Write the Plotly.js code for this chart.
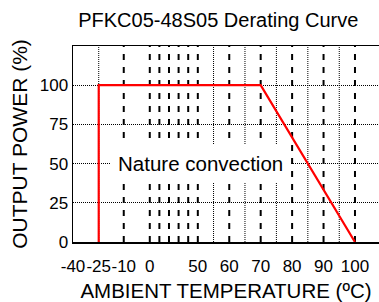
<!DOCTYPE html>
<html>
<head>
<meta charset="utf-8">
<script src="https://cdn.plot.ly/plotly-3.0.1.min.js"></script>
<style>html,body{margin:0;padding:0;background:#fff;}#chart{width:379px;height:302px;}</style>
</head>
<body>
<div id="chart"></div>
<script>
// Derating curve (temperature °C -> output power %)
const curveTemp = [-25, -25, 70, 100];
const curvePower = [0, 100, 100, 0];

// Broken (piecewise) temperature axis of the original figure
const axisKnotTemp = [-40, -25, -10, 0, 50, 100];
const axisKnotUnit = [0, 25.7, 50.7, 76.7, 124.7, 281.7];

// Tick labels
const xTickTemps = [-40, -25, -10, 0, 50, 60, 70, 80, 90, 100];
const xTickLabels = ['-40', '-25', '-10', '0', '50', '60', '70', '80', '90', '100'];
const yTickVals = [0, 25, 50, 75, 100];

// Vertical grid lines
const dashedGridTemps = [-10, 0, 10, 20, 30, 40, 50, 60, 70, 80, 90, 100];
const dottedGridTemps = [-25, 55, 65, 75, 85, 95];

function mapTemp(t) {
  for (let i = 0; i < axisKnotTemp.length - 1; i++) {
    const a = axisKnotTemp[i], b = axisKnotTemp[i + 1];
    if (t <= b || i === axisKnotTemp.length - 2) {
      const f = (t - a) / (b - a);
      return axisKnotUnit[i] + f * (axisKnotUnit[i + 1] - axisKnotUnit[i]);
    }
  }
}

const FONT = 'Liberation Sans, Arial, Helvetica, sans-serif';

const shapes = [];
dashedGridTemps.forEach(t => shapes.push({
  type: 'line', xref: 'x', yref: 'paper', x0: mapTemp(t), x1: mapTemp(t), y0: 0, y1: 1,
  layer: 'below', line: {color: '#000', width: 2, dash: '6px,7px'}
}));
dottedGridTemps.forEach(t => shapes.push({
  type: 'line', xref: 'x', yref: 'paper', x0: mapTemp(t), x1: mapTemp(t), y0: 0, y1: 1,
  layer: 'below', line: {color: '#000', width: 1, dash: '1px,1px'}
}));

const trace = {
  x: curveTemp.map(mapTemp),
  y: curvePower,
  type: 'scatter',
  mode: 'lines',
  line: {color: '#ff0000', width: 2.2},
  hoverinfo: 'skip',
  showlegend: false
};

const layout = {
  width: 379, height: 302,
  margin: {l: 73, r: 0, t: 46, b: 60},
  paper_bgcolor: '#fff', plot_bgcolor: '#fff',
  font: {family: FONT, color: '#000', size: 17},
  title: {text: 'PFKC05-48S05 Derating Curve', font: {family: FONT, size: 20, color: '#000'},
          xref: 'container', x: 0.576, xanchor: 'center', yref: 'container', y: 0.935, yanchor: 'middle'},
  xaxis: {
    range: [0, 305.7], fixedrange: true,
    tickmode: 'array', tickvals: xTickTemps.map(mapTemp), ticktext: xTickLabels,
    tickangle: 0,
    showgrid: false, zeroline: false,
    showline: true, linecolor: '#000', linewidth: 1.5, mirror: true,
    ticks: 'outside', ticklen: 8, tickcolor: 'rgba(0,0,0,0)',
    tickfont: {family: FONT, size: 17, color: '#000'},
    title: {text: 'AMBIENT TEMPERATURE (ºC)', font: {family: FONT, size: 20.5, color: '#000'}, standoff: 10},
    automargin: false
  },
  yaxis: {
    range: [0, 125], fixedrange: true,
    tickmode: 'array', tickvals: yTickVals,
    showgrid: true, gridcolor: '#000', gridwidth: 1, griddash: '1px,1px',
    zeroline: false,
    showline: true, linecolor: '#000', linewidth: 1.5,
    ticks: '', tickfont: {family: FONT, size: 17, color: '#000'},
    title: {text: 'OUTPUT POWER (%)', font: {family: FONT, size: 21, color: '#000'}, standoff: 6},
    automargin: false
  },
  shapes: shapes,
  annotations: [{
    text: 'Nature convection', xref: 'paper', yref: 'y', x: 0.417, y: 50,
    xanchor: 'center', yanchor: 'middle', showarrow: false,
    font: {family: FONT, size: 20.5, color: '#000'},
    bgcolor: '#fff', borderpad: 8, borderwidth: 0
  }]
};

Plotly.newPlot('chart', [trace], layout, {displayModeBar: false, staticPlot: true});
</script>
</body>
</html>
